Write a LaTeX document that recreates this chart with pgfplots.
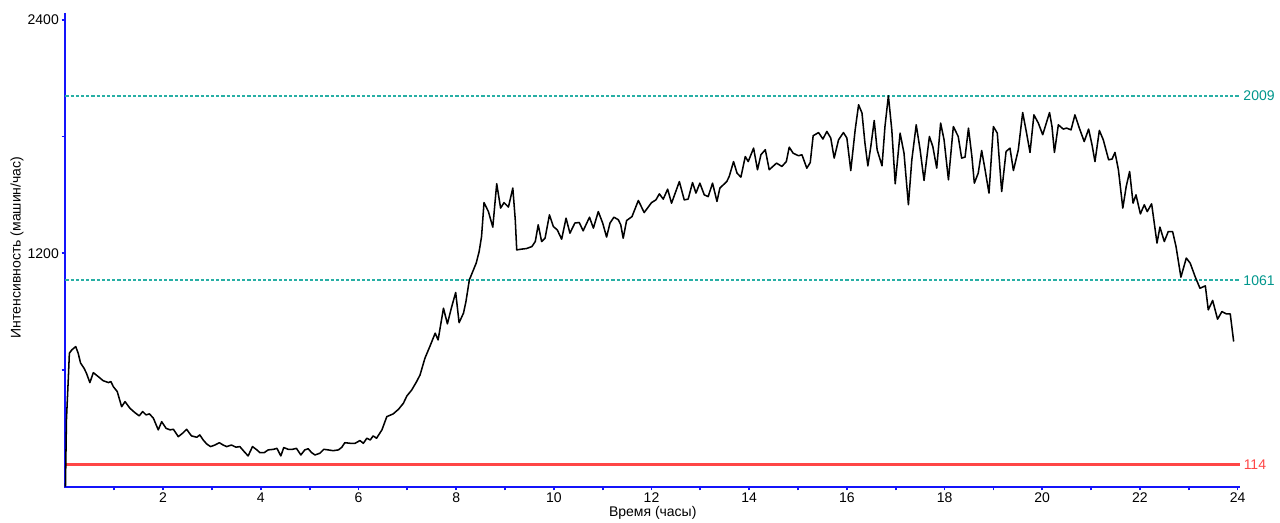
\documentclass[border=0pt]{standalone}
\usepackage{pgfplots}
\pgfplotsset{compat=1.18}
\usepackage{pgfplotstable}
\usepackage{fontspec}
\setmainfont{Liberation Sans}

\definecolor{axisblue}{RGB}{20,20,250}
\definecolor{levelteal}{RGB}{0,150,140}
\definecolor{leveldash}{RGB}{40,175,165}
\definecolor{levelred}{RGB}{255,70,70}

% Traffic intensity over the day: time (hours), vehicles per hour
\pgfplotstableread{
t v
0.00 0
0.02 343
0.06 565
0.08 686
0.13 703
0.21 720
0.26 686
0.31 635
0.38 609
0.43 583
0.50 535
0.57 586
0.67 566
0.77 545
0.88 535
0.93 540
0.98 514
1.06 489
1.15 411
1.22 437
1.32 403
1.42 381
1.51 364
1.58 386
1.65 369
1.72 374
1.80 352
1.90 292
1.97 334
2.06 300
2.14 292
2.21 295
2.31 257
2.40 275
2.48 295
2.58 261
2.69 254
2.75 266
2.82 240
2.89 220
2.97 206
3.06 214
3.15 226
3.23 214
3.30 206
3.40 214
3.49 203
3.57 206
3.66 180
3.74 158
3.83 206
3.92 189
3.98 175
4.07 175
4.15 189
4.26 192
4.33 197
4.41 158
4.47 201
4.56 192
4.65 192
4.73 197
4.82 163
4.90 189
4.97 195
5.04 175
5.11 163
5.21 172
5.29 192
5.38 189
5.48 185
5.59 189
5.66 203
5.72 226
5.83 223
5.93 223
6.03 237
6.10 223
6.17 249
6.24 240
6.30 261
6.37 249
6.48 292
6.58 360
6.71 374
6.82 398
6.92 429
6.99 466
7.09 497
7.19 540
7.26 574
7.36 660
7.46 720
7.57 789
7.63 754
7.74 917
7.82 837
7.91 926
7.99 998
8.06 843
8.15 892
8.20 951
8.27 1063
8.34 1106
8.41 1149
8.47 1208
8.52 1286
8.57 1460
8.66 1414
8.75 1334
8.83 1557
8.91 1432
8.98 1460
9.07 1437
9.16 1535
9.21 1372
9.24 1217
9.34 1221
9.44 1224
9.55 1234
9.62 1260
9.68 1346
9.75 1260
9.82 1277
9.91 1397
9.99 1337
10.07 1320
10.16 1272
10.25 1380
10.33 1303
10.43 1355
10.52 1358
10.60 1315
10.73 1385
10.81 1329
10.91 1414
11.00 1355
11.08 1283
11.15 1355
11.23 1385
11.32 1372
11.37 1346
11.42 1277
11.49 1368
11.60 1388
11.73 1471
11.85 1409
12.00 1460
12.09 1474
12.16 1505
12.24 1478
12.33 1529
12.41 1457
12.57 1568
12.67 1474
12.75 1478
12.84 1563
12.91 1509
12.99 1560
13.08 1500
13.16 1491
13.25 1560
13.34 1466
13.40 1535
13.54 1568
13.59 1594
13.68 1671
13.75 1612
13.83 1591
13.92 1697
13.98 1671
14.09 1740
14.17 1629
14.24 1706
14.33 1732
14.41 1629
14.56 1663
14.67 1646
14.76 1671
14.82 1745
14.90 1714
15.01 1701
15.08 1706
15.18 1637
15.25 1666
15.31 1804
15.42 1820
15.51 1787
15.59 1826
15.67 1792
15.74 1689
15.83 1783
15.93 1820
16.00 1792
16.08 1625
16.17 1834
16.24 1963
16.31 1920
16.37 1766
16.43 1649
16.49 1748
16.56 1882
16.62 1731
16.72 1649
16.78 1851
16.85 2009
16.92 1834
16.99 1557
17.09 1817
17.17 1714
17.26 1449
17.33 1680
17.42 1860
17.50 1731
17.58 1574
17.69 1800
17.76 1748
17.84 1637
17.92 1869
17.99 1783
18.08 1577
18.18 1851
18.28 1800
18.35 1689
18.42 1694
18.49 1843
18.56 1697
18.61 1560
18.69 1612
18.76 1728
18.83 1629
18.91 1509
19.00 1851
19.08 1817
19.17 1517
19.26 1723
19.34 1740
19.41 1625
19.51 1731
19.60 1923
19.68 1817
19.75 1718
19.83 1911
19.92 1869
20.01 1809
20.15 1923
20.20 1851
20.25 1718
20.33 1860
20.43 1838
20.50 1843
20.59 1834
20.67 1911
20.76 1843
20.86 1774
20.95 1838
21.02 1757
21.08 1671
21.17 1831
21.25 1783
21.36 1680
21.43 1684
21.49 1718
21.56 1629
21.65 1432
21.72 1543
21.79 1620
21.86 1457
21.92 1500
22.01 1402
22.09 1449
22.15 1414
22.24 1454
22.29 1363
22.35 1252
22.41 1334
22.50 1260
22.58 1311
22.67 1311
22.74 1234
22.84 1077
22.95 1175
23.03 1149
23.13 1080
23.23 1020
23.34 1032
23.40 909
23.49 957
23.59 861
23.68 900
23.77 888
23.85 888
23.92 746
}\traffic

\begin{document}
\begin{tikzpicture}
\useasboundingbox (-49.1pt,-26.5pt) rectangle (910.9pt,365pt);
\begin{axis}[
  at={(0,0)}, anchor=south west,
  scale only axis,
  width=880.9pt, height=355.3pt,
  xmin=0, xmax=24.05,
  ymin=0, ymax=2435,
  axis x line*=bottom,
  axis y line*=left,
  axis line style={draw=none},
  tick style={color=axisblue, line width=1.3pt},
  tick align=outside,
  major tick length=2.8pt,
  minor tick length=2.8pt,
  xtick={2,4,...,24},
  minor xtick={1,3,...,23},
  ytick={1200,2400},
  minor ytick={600,1800},
  clip=false,
  font=\fontsize{10.5}{12}\selectfont,
  tick label style={font=\fontsize{10.5}{12}\selectfont},
  /pgf/number format/assume math mode=true,
  /pgf/number format/1000 sep={},
  xticklabel style={inner sep=1.5pt},
  yticklabel style={inner sep=2pt},
  xlabel={Время (часы)},
  ylabel={Интенсивность (машин/час)},
  xlabel style={at={(axis description cs:0.5,-0.0555)}, anchor=center},
  ylabel style={at={(axis description cs:-0.0413,0.505)}, anchor=center},
]
% blue axis lines (left and bottom)
\draw[axisblue, line width=1.5pt]
  (rel axis cs:0,1) -- (rel axis cs:0,0) -- (rel axis cs:1,0);
% reference levels
\addplot[leveldash, line width=1.2pt, dash pattern=on 2.4pt off 1.5pt]
  coordinates {(0,2009) (24.05,2009)}
  node[pos=1, anchor=west, inner sep=2pt, text=levelteal] {2009};
\addplot[leveldash, line width=1.2pt, dash pattern=on 2.4pt off 1.5pt]
  coordinates {(0,1061) (24.05,1061)}
  node[pos=1, anchor=west, inner sep=2pt, text=levelteal] {1061};
\addplot[levelred, line width=1.6pt]
  coordinates {(0,114) (24.05,114)}
  node[pos=1, anchor=west, inner sep=2pt, text=levelred] {114};
% measured intensity
\addplot[black, line width=1.15pt, line join=round] table[x=t, y=v] {\traffic};
\end{axis}
\end{tikzpicture}
\end{document}
